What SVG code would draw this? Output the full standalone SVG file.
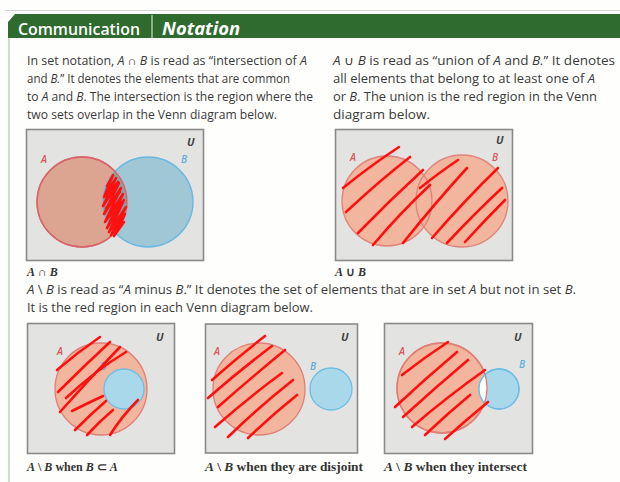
<svg xmlns="http://www.w3.org/2000/svg" width="620" height="482" viewBox="0 0 620 482">
<style>
.p{font-family:"Open Sans","Liberation Sans",sans-serif;font-size:12px;fill:#3a3a3a}
.i{font-style:italic}
.box{fill:#e3e3e1;stroke:#8a8a8a;stroke-width:1.6}
.a1{fill:#dba592;stroke:#d9656a;stroke-width:1.3}
.b1{fill:#9fc7d6;stroke:#6cb7e0;stroke-width:1.3}
.ua{fill:#f2b59e}
.ust{fill:none;stroke:#e0837a;stroke-width:1.3}
.ba{fill:#f2b59e;stroke:#e07f76;stroke-width:1.3}
.bb{fill:#a9d8ea;stroke:#6cbde6;stroke-width:1.3}
.u{font-family:"Open Sans","Liberation Sans",sans-serif;font-size:11px;font-weight:bold;font-style:italic;fill:#444}
.la{font-family:"Open Sans","Liberation Sans",sans-serif;font-size:10px;font-weight:600;font-style:italic;fill:#d9555d}
.lb{font-family:"Open Sans","Liberation Sans",sans-serif;font-size:10px;font-weight:600;font-style:italic;fill:#5aaee0}
.red{fill:none;stroke:#ff1010;stroke-width:2.6;stroke-linecap:round;stroke-linejoin:round}
.cap{font-family:"Liberation Serif",serif;font-size:12px;font-weight:bold;fill:#333}
</style>
<defs>
<clipPath id="cA1"><circle cx="82" cy="202" r="45"/></clipPath>
<clipPath id="cA5"><circle cx="442" cy="388" r="45"/></clipPath>
</defs>
<rect x="0" y="0" width="620" height="482" fill="#fefefc"/>
<line x1="5" y1="10.5" x2="620" y2="10.5" stroke="#d6d6d6" stroke-width="1"/>
<g id="header">
<polygon points="8,22 15,14 620,14 620,38 8,38" fill="#2f6b2e"/>
<line x1="152" y1="15" x2="152" y2="38" stroke="#e8f0e6" stroke-width="1"/>
<text x="18" y="35" font-family="'Open Sans','Liberation Sans',sans-serif" font-size="17" font-weight="600" fill="#ffffff" textLength="122" lengthAdjust="spacingAndGlyphs">Communication</text>
<text x="162" y="35" font-family="'Open Sans','Liberation Sans',sans-serif" font-size="18" font-weight="bold" font-style="italic" fill="#ffffff" textLength="78" lengthAdjust="spacingAndGlyphs">Notation</text>
</g>
<line x1="9" y1="38" x2="9" y2="482" stroke="#cde0c8" stroke-width="2"/>
<g id="text-intersection">
<text class="p" x="27" y="65" textLength="280" lengthAdjust="spacingAndGlyphs">In set notation, <tspan class="i">A</tspan> ∩ <tspan class="i">B</tspan> is read as “intersection of <tspan class="i">A</tspan></text>
<text class="p" x="27" y="83" textLength="263" lengthAdjust="spacingAndGlyphs">and <tspan class="i">B.</tspan>” It denotes the elements that are common</text>
<text class="p" x="27" y="101" textLength="286" lengthAdjust="spacingAndGlyphs">to <tspan class="i">A</tspan> and <tspan class="i">B</tspan>. The intersection is the region where the</text>
<text class="p" x="27" y="119" textLength="250" lengthAdjust="spacingAndGlyphs">two sets overlap in the Venn diagram below.</text>
</g>
<g id="text-union">
<text class="p" x="333" y="65" textLength="282" lengthAdjust="spacingAndGlyphs"><tspan class="i">A</tspan> ∪ <tspan class="i">B</tspan> is read as “union of <tspan class="i">A</tspan> and <tspan class="i">B.</tspan>” It denotes</text>
<text class="p" x="333" y="83" textLength="262" lengthAdjust="spacingAndGlyphs">all elements that belong to at least one of <tspan class="i">A</tspan></text>
<text class="p" x="333" y="101" textLength="264" lengthAdjust="spacingAndGlyphs">or <tspan class="i">B</tspan>. The union is the red region in the Venn</text>
<text class="p" x="333" y="119" textLength="97" lengthAdjust="spacingAndGlyphs">diagram below.</text>
</g>
<g id="venn-intersection">
<rect class="box" x="26.5" y="129.5" width="177" height="131"/>
<circle class="a1" cx="82" cy="202" r="45"/>
<circle class="b1" cx="148" cy="202" r="45"/>
<circle cx="148" cy="202" r="45" fill="#8c9ea2" clip-path="url(#cA1)"/>
<circle cx="82" cy="202" r="45" fill="none" stroke="#d9656a" stroke-width="1.3"/>
<text class="u" x="187" y="146">U</text>
<text class="la" x="41" y="163">A</text>
<text class="lb" x="181" y="163">B</text>
<path class="red" d="M107,186 L113,175 L104,197 L116,178 L103,206 L119,183 L104,214 L121,188 L105,222 L123,194 L107,228 L124,200 L109,232 L126,207 L111,235 L125,214 L114,236 L124,222"/>
<path class="red" d="M108,194 L118,182 M106,208 L120,192 M108,218 L122,202" stroke-width="3"/>
</g>
<text class="cap" x="27" y="276"><tspan font-style="italic">A</tspan> ∩ <tspan font-style="italic">B</tspan></text>
<g id="venn-union">
<rect class="box" x="335.5" y="129.5" width="177" height="131"/>
<circle class="ua" cx="387" cy="201" r="45"/>
<circle class="ua" cx="462" cy="201" r="46"/>
<circle class="ust" cx="387" cy="201" r="45"/>
<circle class="ust" cx="462" cy="201" r="46"/>
<text class="u" x="496" y="144">U</text>
<text class="la" x="350" y="161">A</text>
<text class="la" x="492" y="161">B</text>
<path class="red" d="M343,188 Q370,166 399,147"/>
<path class="red" d="M346,212 Q378,182 410,157"/>
<path class="red" d="M358,233 Q390,200 423,170"/>
<path class="red" d="M373,245 Q400,213 430,185"/>
<path class="red" d="M420,188 Q440,172 458,160"/>
<path class="red" d="M403,243 Q435,203 467,168"/>
<path class="red" d="M432,238 Q465,200 498,168"/>
<path class="red" d="M447,243 Q475,213 502,188"/>
<path class="red" d="M465,242 Q485,220 505,200"/>
</g>
<text class="cap" x="335" y="276"><tspan font-style="italic">A</tspan> ∪ <tspan font-style="italic">B</tspan></text>
<g id="text-difference">
<text class="p" x="27" y="294" textLength="549" lengthAdjust="spacingAndGlyphs"><tspan class="i">A</tspan> \ <tspan class="i">B</tspan> is read as “<tspan class="i">A</tspan> minus <tspan class="i">B</tspan>.” It denotes the set of elements that are in set <tspan class="i">A</tspan> but not in set <tspan class="i">B</tspan>.</text>
<text class="p" x="27" y="312" textLength="286" lengthAdjust="spacingAndGlyphs">It is the red region in each Venn diagram below.</text>
</g>
<g id="venn-subset">
<rect class="box" x="27.5" y="323.5" width="147" height="130"/>
<circle class="ba" cx="101" cy="389" r="46"/>
<circle class="bb" cx="124" cy="389" r="20"/>
<text class="u" x="156" y="341">U</text>
<text class="la" x="57" y="355">A</text>
<text class="lb" x="100" y="370">B</text>
<path class="red" d="M57,370 Q78,352 100,337"/>
<path class="red" d="M58,392 Q84,366 110,342"/>
<path class="red" d="M60,412 Q90,378 120,347"/>
<path class="red" d="M66,398 Q96,370 126,352"/>
<path class="red" d="M72,411 Q88,403 103,396"/>
<path class="red" d="M75,430 Q91,414 106,401"/>
<path class="red" d="M87,435 Q100,421 113,410"/>
<path class="red" d="M110,435 Q122,416 138,400"/>
</g>
<text class="cap" x="27" y="471"><tspan font-style="italic">A</tspan> \ <tspan font-style="italic">B</tspan> when <tspan font-style="italic">B</tspan> ⊂ <tspan font-style="italic">A</tspan></text>
<g id="venn-disjoint">
<rect class="box" x="205.5" y="324" width="152" height="129"/>
<circle class="ba" cx="259" cy="389" r="46"/>
<circle class="bb" cx="331" cy="389" r="21"/>
<text class="u" x="341" y="341">U</text>
<text class="la" x="214" y="355">A</text>
<text class="lb" x="310" y="370">B</text>
<path class="red" d="M212,380 Q238,357 265,336"/>
<path class="red" d="M208,398 Q240,370 272,346"/>
<path class="red" d="M218,407 Q252,377 285,350"/>
<path class="red" d="M215,427 Q248,398 282,373"/>
<path class="red" d="M228,437 Q260,406 293,380"/>
<path class="red" d="M248,438 Q272,415 297,395"/>
</g>
<text class="cap" x="205" y="471" textLength="158" lengthAdjust="spacingAndGlyphs"><tspan font-style="italic">A</tspan> \ <tspan font-style="italic">B</tspan> when they are disjoint</text>
<g id="venn-intersect">
<rect class="box" x="384.5" y="323.5" width="148" height="130"/>
<circle class="ba" cx="442" cy="388" r="45"/>
<circle class="bb" cx="499" cy="389" r="20"/>
<circle cx="499" cy="389" r="20" fill="#ffffff" clip-path="url(#cA5)"/>
<circle cx="442" cy="388" r="45" fill="none" stroke="#e07f76" stroke-width="1.3"/>
<circle cx="499" cy="389" r="20" fill="none" stroke="#6cbde6" stroke-width="1.3"/>
<text class="u" x="514" y="341">U</text>
<text class="la" x="399" y="355">A</text>
<text class="lb" x="519" y="368">B</text>
<path class="red" d="M402,375 Q425,357 448,342"/>
<path class="red" d="M395,407 Q426,378 457,352"/>
<path class="red" d="M403,417 Q436,387 468,360"/>
<path class="red" d="M412,427 Q448,396 485,370"/>
<path class="red" d="M425,435 Q447,414 470,395"/>
<path class="red" d="M445,439 Q466,420 488,402"/>
</g>
<text class="cap" x="384" y="471" textLength="143" lengthAdjust="spacingAndGlyphs"><tspan font-style="italic">A</tspan> \ <tspan font-style="italic">B</tspan> when they intersect</text>
</svg>
